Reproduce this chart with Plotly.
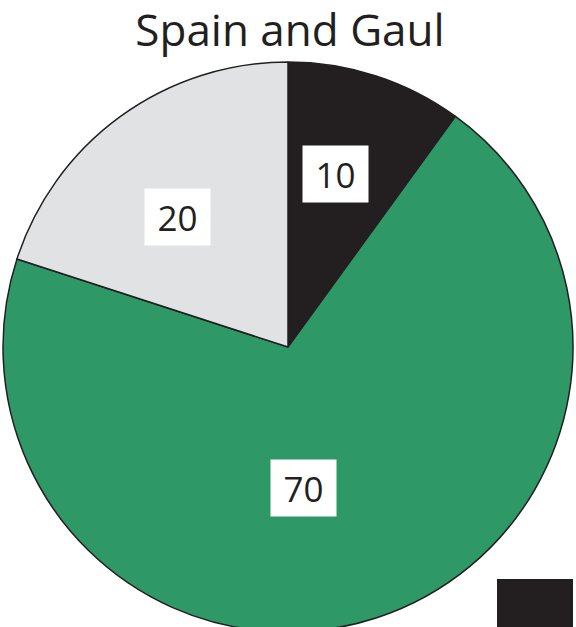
import math
import plotly.graph_objects as go

# ---- data ----
categories = ["A", "B", "C"]
values = [10, 70, 20]
colors = ["#231f20", "#2e9966", "#e1e2e4"]
title_text = "Spain and Gaul"

# label placement tweaks (angle shift in degrees, radial fraction)
label_angle_shift = [-2.6, 11.7, -4.3]
label_radius = [0.628, 0.496, 0.600]

W, H = 576, 632
ML, MR, MT, MB = 3, 3, 62, 0
FONT = "Open Sans, Lato, sans-serif"

fig = go.Figure()
fig.add_trace(go.Pie(
    labels=categories,
    values=values,
    sort=False,
    direction="clockwise",
    rotation=0,
    marker=dict(colors=colors, line=dict(color="#231f20", width=1.5)),
    textinfo="none",
    hoverinfo="label+value",
    showlegend=False,
    domain=dict(x=[0, 1], y=[0, 1]),
))

total = sum(values)
cum = 0
for v, sh, rf in zip(values, label_angle_shift, label_radius):
    mid = (cum + v / 2) / total * 360 + sh
    cum += v
    th = math.radians(mid)
    x = 0.5 + 0.5 * rf * math.sin(th)
    y = 0.5 + 0.5 * rf * math.cos(th)
    fig.add_annotation(
        x=x, y=y, xref="paper", yref="paper",
        text=str(v), showarrow=False,
        font=dict(family=FONT, size=35, color="#231f20"),
        bgcolor="white", width=63, height=54,
        xanchor="center", yanchor="middle",
    )

# black block at bottom right
fig.add_shape(type="rect", xref="paper", yref="paper",
              x0=(497 - ML) / 570, x1=(573 - ML) / 570,
              y0=0, y1=(632 - 579) / 570,
              fillcolor="#231f20", line=dict(width=0), layer="above")

fig.update_layout(
    width=W, height=H,
    margin=dict(l=ML, r=MR, t=MT, b=MB),
    paper_bgcolor="white", plot_bgcolor="white",
    title=dict(text=title_text, x=290 / W, xanchor="center",
               y=1 - 31 / H, yanchor="middle", yref="container",
               font=dict(family=FONT, size=44, color="#231f20")),
)

fig.write_html("out.html", config={"displayModeBar": False},
               post_script="document.body.style.overflow='hidden';document.body.style.margin='0';")
